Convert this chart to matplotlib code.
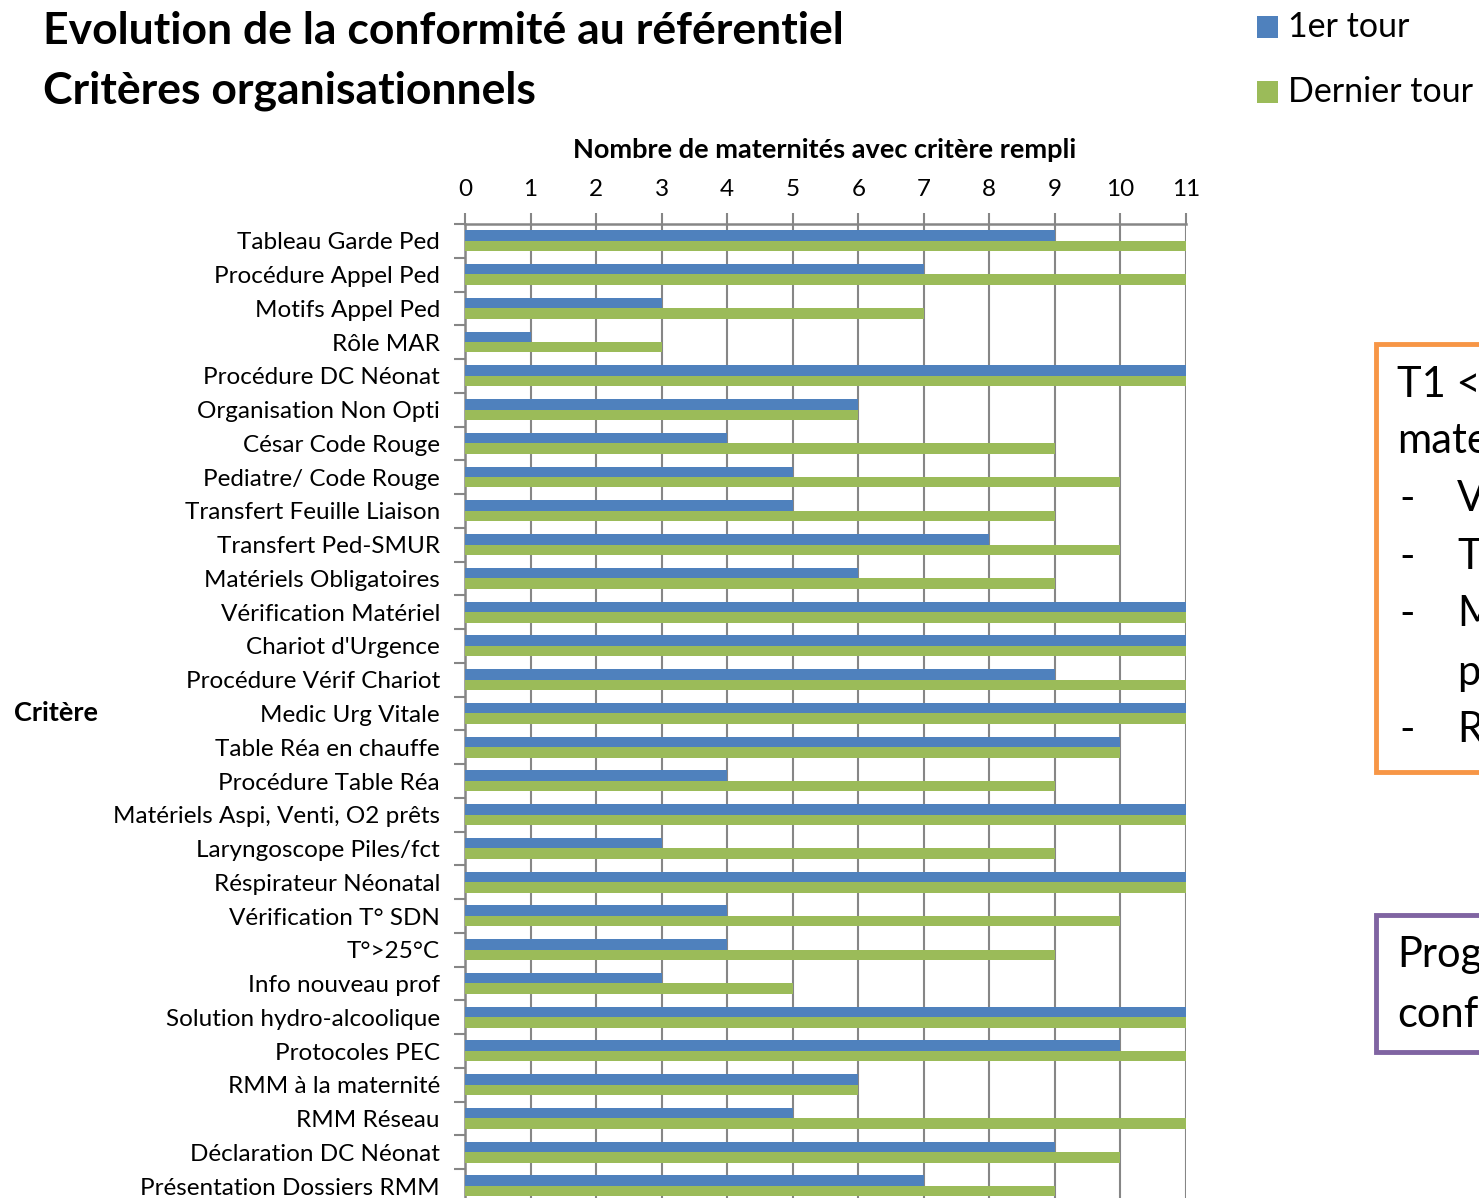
import numpy as np
import matplotlib.pyplot as plt
import matplotlib.patches as patches

# Données
criteres = [
    "Tableau Garde Ped", "Procédure Appel Ped", "Motifs Appel Ped", "Rôle MAR",
    "Procédure DC Néonat", "Organisation Non Opti", "César Code Rouge",
    "Pediatre/ Code Rouge", "Transfert Feuille Liaison", "Transfert Ped-SMUR",
    "Matériels Obligatoires", "Vérification Matériel", "Chariot d'Urgence",
    "Procédure Vérif Chariot", "Medic Urg Vitale", "Table Réa en chauffe",
    "Procédure Table Réa", "Matériels Aspi, Venti, O2 prêts",
    "Laryngoscope Piles/fct", "Réspirateur Néonatal", "Vérification T° SDN",
    "T°>25°C", "Info nouveau prof", "Solution hydro-alcoolique",
    "Protocoles PEC", "RMM à la maternité", "RMM Réseau",
    "Déclaration DC Néonat", "Présentation Dossiers RMM",
]
premier_tour = [9, 7, 3, 1, 11, 6, 4, 5, 5, 8, 6, 11, 11, 9, 11, 10, 4, 11, 3, 11, 4, 4, 3, 11, 10, 6, 5, 9, 7]
dernier_tour = [11, 11, 7, 3, 11, 6, 9, 10, 9, 10, 9, 11, 11, 11, 11, 10, 9, 11, 9, 11, 10, 9, 5, 11, 11, 6, 11, 10, 9]
series_labels = ["1er tour", "Dernier tour"]
ticks = list(range(0, 12))

BLUE = '#4F81BD'
GREEN = '#9BBB59'
GRID = '#868686'
FONT = 'Lato'

W, H = 1479, 1198
fig = plt.figure(figsize=(W / 100, H / 100), dpi=100)

# Axe principal (pixels -> fractions)
left, right, top, bottom = 465, 1186, 224, 1203
ax = fig.add_axes([left / W, 1 - bottom / H, (right - left) / W, (bottom - top) / H])

y = np.arange(len(criteres))
h = 0.31
ax.barh(y - 0.16, premier_tour, height=h, color=BLUE, zorder=3)
ax.barh(y + 0.15, dernier_tour, height=h, color=GREEN, zorder=3)

ax.set_xlim(0, 11)
ax.set_ylim(len(criteres) - 0.5, -0.5)

# Axe des valeurs en haut
ax.xaxis.tick_top()
ax.set_xticks(ticks)
ax.set_xticklabels([str(t) for t in ticks], fontsize=17.5, family=FONT)
ax.tick_params(axis='x', length=8, width=1.5, color=GRID, pad=9)
ax.xaxis.grid(True, color=GRID, linewidth=1.5, zorder=0)

# Catégories : graduations entre catégories
ax.set_yticks(y)
ax.set_yticklabels(criteres, fontsize=17.5, family=FONT)
ax.set_yticks(np.arange(len(criteres) + 1) - 0.5, minor=True)
ax.tick_params(axis='y', which='major', length=0, pad=18)
ax.tick_params(axis='y', which='minor', length=8, width=1.5, color=GRID)

for s in ['right', 'bottom']:
    ax.spines[s].set_visible(False)
for s in ['left', 'top']:
    ax.spines[s].set_color(GRID)
    ax.spines[s].set_linewidth(1.8)

# Titres
fig.text(43 / W, 1 - 31 / H, "Evolution de la conformité au référentiel",
         fontsize=32, weight='bold', family=FONT, va='center', ha='left')
fig.text(43 / W, 1 - 91 / H, "Critères organisationnels",
         fontsize=32, weight='bold', family=FONT, va='center', ha='left')
fig.text(825 / W, 1 - 150 / H, "Nombre de maternités avec critère rempli",
         fontsize=19.5, weight='bold', family=FONT, va='center', ha='center')
fig.text(14 / W, 1 - 713 / H, "Critère",
         fontsize=19.5, weight='bold', family=FONT, va='center', ha='left')

# Légende
for lab, col, yy in zip(series_labels, [BLUE, GREEN], [27, 92]):
    fig.patches.append(patches.Rectangle((1257 / W, 1 - (yy + 10.5) / H), 21 / W, 21 / H,
                                         transform=fig.transFigure, facecolor=col,
                                         edgecolor='none'))
    fig.text(1288 / W, 1 - yy / H, lab, fontsize=24.5, family=FONT, va='center', ha='left')

# Encadrés de commentaire (coupés par le bord, comme dans l'original)
fig.patches.append(patches.Rectangle((1376 / W, 1 - 772 / H), 200 / W, 428 / H,
                                     transform=fig.transFigure, facecolor='white',
                                     edgecolor='#F79646', linewidth=3.5))
fig.text(1397 / W, 1 - 385 / H, "T1 < T2", fontsize=30, family=FONT, va='center', ha='left')
fig.text(1397 / W, 1 - 441 / H, "maternités", fontsize=30, family=FONT, va='center', ha='left')
items = [("-", "Vérification", 499), ("-", "Table", 557), ("-", "Matériels", 614),
         ("", "prêts", 673), ("-", "RMM", 730)]
for dash, word, yy in items:
    if dash:
        fig.text(1399 / W, 1 - yy / H, dash, fontsize=30, family=FONT, va='center', ha='left')
    fig.text(1457 / W, 1 - yy / H, word, fontsize=30, family=FONT, va='center', ha='left')

fig.patches.append(patches.Rectangle((1376 / W, 1 - 1052 / H), 200 / W, 137 / H,
                                     transform=fig.transFigure, facecolor='white',
                                     edgecolor='#8064A2', linewidth=3.5))
fig.text(1397 / W, 1 - 955 / H, "Progression", fontsize=30, family=FONT, va='center', ha='left')
fig.text(1397 / W, 1 - 1015 / H, "conformité", fontsize=30, family=FONT, va='center', ha='left')

fig.savefig('out.png', dpi=100)
